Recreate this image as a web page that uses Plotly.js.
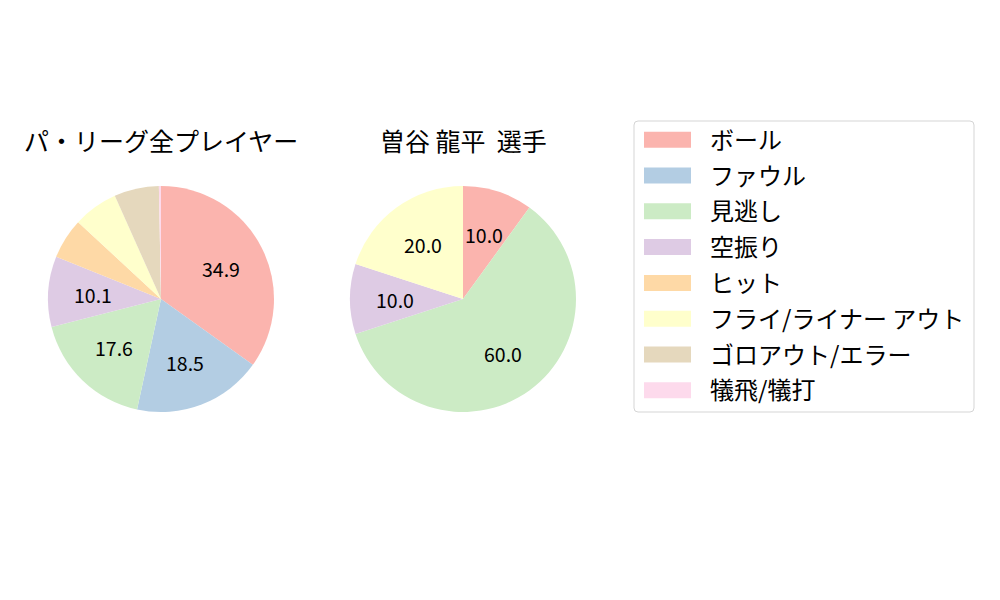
<!DOCTYPE html>
<html><head><meta charset="utf-8">
<script src="https://cdn.plot.ly/plotly-3.0.1.min.js"></script>
<style>html,body{margin:0;padding:0;background:#fff}#chart{width:1000px;height:600px}</style>
</head><body><div id="chart"></div>
<script>
const categories = ["ボール","ファウル","見逃し","空振り","ヒット","フライ/ライナー アウト","ゴロアウト/エラー","犠飛/犠打"];
const leagueValues = [34.9, 18.5, 17.6, 10.1, 5.8, 6.4, 6.4, 0.3];
const playerValues = [10.0, 0, 60.0, 10.0, 0, 20.0, 0, 0];
const colors = ["#fbb4ae","#b3cde3","#ccebc5","#decbe4","#fed9a6","#ffffcc","#e5d8bd","#fddaec"];
const titles = ["パ・リーグ全プレイヤー","曽谷 龍平 \u00a0選手"];

const FONT = "'Noto Sans CJK JP', 'Noto Sans', sans-serif";
const W = 1000, H = 600;
const px = x => x / W, py = y => 1 - y / H;

// pie geometry (pixels)
const R = 113, CY = 299;
const centersX = [161, 463];

function pieTrace(vals, cx) {
  return {
    type: 'pie', values: vals, labels: categories, sort: false,
    direction: 'clockwise', rotation: 0,
    marker: {colors: colors, line: {width: 0}},
    textinfo: 'none',
    hoverinfo: 'label+value',
    showlegend: false,
    domain: {x: [px(cx - R), px(cx + R)], y: [py(CY + R), py(CY - R)]}
  };
}

const allValues = [leagueValues, playerValues];
const data = allValues.map((v, i) => pieTrace(v, centersX[i]));

const annotations = [];
titles.forEach((t, i) => {
  annotations.push({text: t, x: px(centersX[i]), y: py(140), xref: 'paper', yref: 'paper', xanchor: 'center', yanchor: 'middle', showarrow: false, font: {family: FONT, size: 25, color: '#000'}});
});

// percentage labels at 0.6 radius along each slice bisector (matplotlib style)
allValues.forEach((vals, i) => {
  const total = vals.reduce((a, b) => a + b, 0);
  let cum = 0;
  vals.forEach(v => {
    const mid = (cum + v / 2) / total * 2 * Math.PI;
    cum += v;
    if (v / total * 100 < 10) return;
    const x = centersX[i] + 0.6 * R * Math.sin(mid);
    const y = CY - 0.6 * R * Math.cos(mid);
    annotations.push({text: (v / total * 100).toFixed(1), x: px(x), y: py(y), xref: 'paper', yref: 'paper', xanchor: 'center', yanchor: 'middle', showarrow: false, font: {family: FONT, size: 19.5, color: '#000'}});
  });
});

const shapes = [];
// legend frame
const lx0 = 634, lx1 = 974, ly0 = 121, ly1 = 412, r = 4;
shapes.push({type: 'path', xref: 'paper', yref: 'paper',
  path: `M ${px(lx0+r)} ${py(ly0)} L ${px(lx1-r)} ${py(ly0)} Q ${px(lx1)} ${py(ly0)} ${px(lx1)} ${py(ly0+r)} L ${px(lx1)} ${py(ly1-r)} Q ${px(lx1)} ${py(ly1)} ${px(lx1-r)} ${py(ly1)} L ${px(lx0+r)} ${py(ly1)} Q ${px(lx0)} ${py(ly1)} ${px(lx0)} ${py(ly1-r)} L ${px(lx0)} ${py(ly0+r)} Q ${px(lx0)} ${py(ly0)} ${px(lx0+r)} ${py(ly0)} Z`,
  line: {color: '#d5d5d5', width: 1}, fillcolor: 'rgba(255,255,255,0.8)'});
categories.forEach((c, i) => {
  const cy = 139.7 + 35.8 * i;
  shapes.push({type: 'rect', xref: 'paper', yref: 'paper', x0: px(644), x1: px(691), y0: py(cy - 8), y1: py(cy + 8), fillcolor: colors[i], line: {width: 0}});
  annotations.push({text: c, x: px(708), y: py(cy - 1.5), xref: 'paper', yref: 'paper', xanchor: 'left', yanchor: 'middle', showarrow: false, font: {family: FONT, size: 24, color: '#000'}});
});

const layout = {
  width: W, height: H, margin: {l: 0, r: 0, t: 0, b: 0},
  paper_bgcolor: '#fff', plot_bgcolor: '#fff',
  showlegend: false, annotations: annotations, shapes: shapes,
  font: {family: FONT}
};
Plotly.newPlot('chart', data, layout, {displayModeBar: false, staticPlot: true});
</script></body></html>
